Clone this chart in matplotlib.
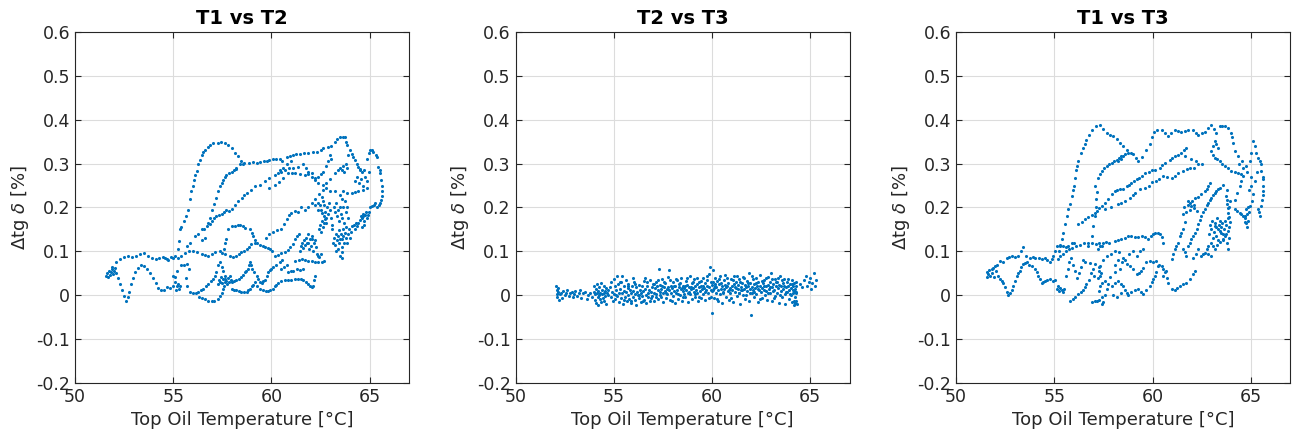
import matplotlib
matplotlib.use("Agg")
import matplotlib.pyplot as plt
import numpy as np

# ---------------------------------------------------------------
# Data (x = top oil temperature, y = delta tg delta)
# ---------------------------------------------------------------
titles = ["T1 vs T2", "T2 vs T3", "T1 vs T3"]
xticks = [50, 55, 60, 65]
yticks = [-0.2, -0.1, 0, 0.1, 0.2, 0.3, 0.4, 0.5, 0.6]
yticklabels = ["-0.2", "-0.1", "0", "0.1", "0.2", "0.3", "0.4", "0.5", "0.6"]

#%% T1 vs T2
t12_low = [(51.6,0.045),(51.65,0.05),(51.7,0.042),(51.75,0.055),(51.8,0.047),(51.85,0.052),(51.9,0.06),(51.95,0.048),
           (52.0,0.055),(52.05,0.062),(52.1,0.05),(52.2,0.04),(52.3,0.025),(52.4,0.012),(52.5,-0.002),(52.6,-0.012),
           (52.68,-0.005),(52.75,0.008),(52.85,0.025),(52.95,0.04),(53.05,0.052),(53.2,0.062),(53.35,0.068),(53.5,0.067),
           (53.65,0.06),(53.8,0.05),(53.95,0.04),(54.1,0.028),(54.25,0.017),(54.4,0.013),(54.55,0.012),(54.7,0.018),
           (54.85,0.016),(55.0,0.022),(55.1,0.03),(55.2,0.02),(55.3,0.015),(55.25,0.025),(55.15,0.012)]
t12_flat = [(51.9,0.065),(52.1,0.075),(52.3,0.083),(52.5,0.088),(52.7,0.09),(52.9,0.087),(53.1,0.09),(53.3,0.093),
            (53.5,0.097),(53.7,0.09),(53.9,0.085),(54.1,0.083),(54.3,0.086),(54.5,0.088),(54.7,0.082),(54.9,0.087),
            (55.1,0.09),(55.25,0.105),(55.3,0.124)]
t12_peak = [(55.35,0.15),(55.42,0.155),(55.55,0.17),(55.65,0.18),(55.75,0.195),(55.85,0.22),(55.93,0.237),(56.0,0.25),
            (56.07,0.262),(56.13,0.275),(56.19,0.283),(56.28,0.3),(56.36,0.308),(56.44,0.32),(56.53,0.327),(56.61,0.332),
            (56.75,0.338),(56.86,0.342),(57.05,0.346),(57.29,0.348),(57.45,0.35),(57.63,0.348),(57.8,0.342),(57.97,0.335),
            (58.15,0.325),(58.3,0.318),(58.45,0.307),(58.56,0.3)]
t12_top = [(58.2,0.29),(58.4,0.298),(58.6,0.302),(58.85,0.301),(59.07,0.303),(59.25,0.302),(59.4,0.304),(59.6,0.305),
           (59.75,0.307),(59.9,0.309),(60.08,0.31),(60.25,0.311),(60.42,0.31),(60.55,0.305),(60.77,0.316),(60.95,0.318),
           (61.1,0.32),(61.25,0.321),(61.45,0.322),(61.65,0.324),(61.87,0.325),(62.1,0.326),(62.3,0.327),(62.5,0.33),
           (62.64,0.335),(62.9,0.337),(63.05,0.34),(63.23,0.35),(63.35,0.357),(63.49,0.36),(63.62,0.361),(63.74,0.361),
           (63.8,0.35),(63.83,0.342),(63.91,0.32),(64.0,0.33),(64.08,0.323),(64.15,0.315),(64.25,0.308),(64.35,0.3),
           (64.42,0.293),(64.5,0.287),(64.59,0.282),(64.7,0.285),(64.85,0.31),(64.95,0.325),(65.02,0.33),(65.1,0.33),
           (65.19,0.327),(65.3,0.32),(65.36,0.316),(65.44,0.293),(65.5,0.285),(65.53,0.278),(65.58,0.262),(65.61,0.248),
           (65.62,0.237),(65.61,0.226),(65.58,0.218),(65.53,0.21),(65.45,0.205),(65.36,0.2),(65.27,0.21),(65.2,0.205),
           (65.1,0.203),(65.0,0.2)]
t12_upper = [(60.34,0.278),(60.5,0.282),(60.68,0.286),(60.9,0.29),(61.1,0.29),(61.36,0.293),(61.6,0.3),(61.75,0.29),
             (61.87,0.282),(62.04,0.27),(62.21,0.263),(62.38,0.27),(62.5,0.276),(62.64,0.282),(62.78,0.295),(62.9,0.305),
             (62.98,0.32),(63.05,0.31)]
t12_mid1 = [(55.68,0.113),(55.85,0.118),(56.1,0.135),(56.27,0.14),(56.44,0.15),(56.57,0.152),(56.7,0.158),(56.85,0.163),
            (56.95,0.17),(57.1,0.175),(57.2,0.18),(57.33,0.183),(57.46,0.186),(57.6,0.19),(57.7,0.194),(57.85,0.192),
            (58.0,0.197),(58.14,0.205),(58.3,0.214),(58.5,0.222),(58.62,0.228),(58.73,0.233),(58.95,0.24),(59.15,0.248),
            (59.4,0.252),(59.66,0.26),(59.9,0.267),(60.17,0.274),(60.42,0.285),(60.6,0.29),(60.8,0.3),(61.0,0.305)]
t12_mid2 = [(56.45,0.125),(56.6,0.13),(56.75,0.165),(56.86,0.177),(56.95,0.195),(57.08,0.207),(57.2,0.222),(57.29,0.237),
            (57.37,0.248),(57.46,0.256),(57.54,0.263),(57.62,0.27),(57.71,0.274),(57.85,0.278),(57.97,0.282),(58.1,0.285),
            (58.22,0.287)]
t12_mid3 = [(59.9,0.245),(60.17,0.252),(60.4,0.258),(60.6,0.268),(60.85,0.278),(61.05,0.278),(61.2,0.278),(61.45,0.276),
            (61.7,0.274),(61.87,0.276),(62.04,0.278),(62.2,0.268),(62.38,0.256),(62.64,0.252),(62.8,0.244),(62.98,0.237),
            (63.23,0.237),(63.49,0.229),(63.66,0.237),(63.83,0.233),(64.08,0.233),(64.25,0.235),(64.42,0.237),(64.68,0.24),
            (64.85,0.244)]
t12_mid4 = [(57.7,0.128),(57.8,0.15),(57.97,0.158),(58.14,0.158),(58.3,0.16),(58.4,0.16),(58.55,0.157),(58.64,0.154),
            (58.9,0.15),(59.0,0.142),(59.07,0.135),(59.15,0.127),(57.6,0.105),(57.65,0.118)]
t12_ten = [(54.58,0.086),(54.75,0.08),(55.0,0.086),(55.25,0.086),(55.42,0.09),(55.6,0.097),(55.8,0.1),(56.0,0.1),
           (56.2,0.098),(56.44,0.094),(56.6,0.092),(56.78,0.09),(56.95,0.095),(57.12,0.098),(57.37,0.1),(57.5,0.097),
           (57.63,0.094),(57.88,0.09),(58.05,0.088),(58.22,0.089),(58.35,0.093),(58.47,0.098),(58.6,0.1),(58.73,0.105),
           (58.85,0.11),(58.98,0.117),(59.15,0.12),(59.28,0.118),(59.4,0.115),(59.55,0.112),(59.66,0.109),(59.8,0.107),
           (59.92,0.105),(60.05,0.1),(60.17,0.09),(60.35,0.092),(60.5,0.096),(60.68,0.098),(60.85,0.104),(60.94,0.109),
           (61.1,0.117),(61.2,0.128),(61.3,0.135),(61.4,0.14)]
t12_rise = [(59.7,0.13),(59.9,0.14),(60.1,0.145),(60.3,0.148),(60.5,0.15),(60.65,0.162),(60.77,0.173),(60.9,0.182),
            (61.02,0.188),(61.2,0.192),(61.35,0.19),(61.5,0.2),(61.7,0.195),(61.85,0.2),(62.04,0.21),(62.2,0.205),
            (62.35,0.195),(62.55,0.188),(62.72,0.173),(62.8,0.165),(62.2,0.22),(62.4,0.23),(62.6,0.24),(62.8,0.255),
            (63.0,0.265),(63.23,0.278)]
t12_lows = [(55.0,0.045),(55.08,0.041),(55.2,0.055),(55.34,0.022),(55.42,0.068),(55.55,0.07),(55.68,0.071),(55.8,0.06),
            (55.65,0.04),(55.7,0.02),(55.85,0.008),(56.02,0.004),(56.15,0.006),(56.27,0.008),(56.4,0.012),(56.53,0.015),
            (56.65,0.02),(56.78,0.026),(56.9,0.032),(57.03,0.038),(57.12,0.045),(57.2,0.053),(57.29,0.068),(57.38,0.075),
            (56.3,-0.003),(56.45,-0.006),(56.61,-0.008),(56.78,-0.012),(56.95,-0.014),(57.1,-0.012),(57.29,-0.008),
            (57.4,-0.002),(57.46,0.004),(57.54,0.015),(57.6,0.022),(57.63,0.03),(57.65,0.038),(57.63,0.045),(57.55,0.055),
            (57.46,0.065),(57.3,0.025),(57.35,0.035),(57.4,0.03),(57.45,0.042),(57.5,0.028),(57.55,0.038),(57.7,0.033),
            (57.75,0.025),(57.8,0.04),(57.85,0.03),(57.9,0.045),(57.95,0.035)]
t12_wave = [(57.97,0.03),(58.1,0.032),(58.22,0.034),(58.35,0.038),(58.47,0.041),(58.56,0.047),(58.64,0.053),(58.72,0.056),
            (58.8,0.06),(58.85,0.068),(58.9,0.075),(58.95,0.07),(59.0,0.06),(59.1,0.052),(59.24,0.045),(59.32,0.037),
            (59.4,0.03),(59.5,0.028),(59.58,0.032),(59.66,0.034),(59.75,0.044),(59.83,0.053),(59.92,0.057),(60.0,0.06),
            (60.1,0.065),(60.25,0.07),(60.42,0.075),(60.55,0.08),
            (57.97,0.015),(58.1,0.013),(58.22,0.011),(58.35,0.009),(58.47,0.008),(58.6,0.007),(58.73,0.008),(58.82,0.011),
            (58.9,0.015),(59.0,0.02),(59.07,0.023),(59.15,0.03),(59.25,0.02),(59.4,0.015),(59.58,0.011),(59.7,0.01),
            (59.83,0.009),(59.95,0.012),(60.08,0.015),(60.17,0.02),(60.25,0.023),(60.35,0.028)]
t12_rlow = [(60.5,0.032),(60.68,0.034),(60.85,0.034),(61.02,0.034),(61.2,0.036),(61.36,0.038),(61.5,0.036),(61.62,0.034),
            (61.75,0.03),(61.87,0.026),(61.95,0.022),(62.04,0.019),(62.12,0.022),(62.18,0.035),(62.21,0.045),(60.51,0.06),
            (60.65,0.064),(60.77,0.068),(60.85,0.053),(61.0,0.055),(61.1,0.056),(61.28,0.06),(61.45,0.058),(61.6,0.06),
            (61.2,0.079),(61.4,0.08),(61.55,0.082),(61.7,0.08),(61.87,0.079),(62.04,0.077),(62.21,0.075),(62.38,0.076),
            (62.55,0.075),(62.7,0.078)]
t12_dense = [(61.45,0.1),(61.5,0.113),(61.55,0.12),(61.6,0.108),(61.65,0.125),(61.7,0.115),(61.75,0.13),(61.8,0.118),
             (61.85,0.14),(61.87,0.12),(61.9,0.105),(61.95,0.128),(62.0,0.112),(62.04,0.128),(62.08,0.135),(62.1,0.1),
             (62.15,0.118),(62.2,0.125),(62.25,0.11),(62.3,0.095),(62.35,0.09),(62.42,0.088),(62.5,0.093),
             (62.4,0.15),(62.45,0.16),(62.5,0.145),(62.55,0.17),(62.6,0.155),(62.65,0.18),(62.7,0.165),(62.75,0.19),
             (62.8,0.175),(62.85,0.2),(62.9,0.185),(62.95,0.21),(63.0,0.195),(63.05,0.175),(63.06,0.15),(63.1,0.16),
             (62.6,0.215),(62.7,0.205),(62.5,0.195),(62.45,0.205),(62.55,0.225),(62.35,0.21),
             (63.15,0.12),(63.2,0.13),(63.23,0.115),(63.3,0.14),(63.35,0.125),(63.4,0.135),(63.42,0.148),(63.45,0.118),
             (63.5,0.128),(63.55,0.14),(63.57,0.128),(63.6,0.11),(63.62,0.15),(63.65,0.135),(63.7,0.12),(63.74,0.143),
             (63.78,0.13),(63.8,0.155),(63.85,0.118),(63.9,0.14),(63.95,0.152),(64.0,0.13),(64.05,0.145),(64.08,0.158),
             (63.57,0.098),(63.5,0.09),(63.6,0.085),(63.4,0.105),(63.3,0.1),
             (63.2,0.2),(63.25,0.19),(63.3,0.21),(63.35,0.18),(63.4,0.195),(63.45,0.17),(63.5,0.2),(63.55,0.185),
             (63.6,0.175),(63.65,0.2),(63.7,0.165),(63.8,0.19),(63.85,0.2),(63.9,0.175),(63.75,0.215),(63.6,0.22),
             (64.2,0.16),(64.25,0.15),(64.3,0.165),(64.35,0.158),(64.42,0.165),(64.5,0.172),(64.55,0.18),(64.6,0.175),
             (64.65,0.185),(64.68,0.18),(64.72,0.17),(64.76,0.184),(64.8,0.19),(64.85,0.175),(64.9,0.182),(64.95,0.19),
             (64.7,0.16),(64.6,0.155),
             (63.4,0.285),(63.5,0.29),(63.57,0.286),(63.65,0.295),(63.7,0.28),(63.8,0.3),(63.85,0.29),(64.25,0.26),
             (64.35,0.27),(64.45,0.255),(64.55,0.265),(64.65,0.25),(64.75,0.27),(64.85,0.26),(64.95,0.28),(64.5,0.285)]

#%% T2 vs T3
t23_left = [(52.08,0.022),(52.1,0.012),(52.12,0.003),(52.1,-0.004),(52.15,0.016),(52.14,0.008),(52.2,-0.01),(52.25,0.002),
            (52.3,0.006),(52.35,-0.006),(52.42,0.009),(52.5,0.0),(52.55,0.004),(52.62,0.011),(52.7,-0.002),(52.78,0.006),
            (52.85,0.008),(52.92,-0.004),(53.0,0.003),(53.05,0.009),(53.15,-0.002),(53.22,0.005),(53.3,0.012),(53.35,-0.006),
            (53.45,0.004),(53.55,0.007),(53.62,-0.008),(53.7,0.001),(53.8,0.006),(53.88,-0.003),
            (54.0,0.02),(54.02,0.008),(54.05,-0.01),(54.06,0.002),(54.1,0.015),(54.12,-0.018),(54.14,0.005),(54.15,0.025),
            (54.18,-0.004),(54.2,0.01),(54.22,-0.022),(54.25,0.0),(54.27,0.018),(54.3,-0.008),(54.32,0.006),(54.35,0.028),
            (54.36,-0.015),(54.4,0.003),(54.42,0.012),(54.45,-0.006),(54.48,0.02),(54.5,-0.012),(54.52,0.004),(54.55,0.009),
            (54.58,-0.002),(54.6,0.016),(54.63,-0.02),(54.66,0.006),(54.7,0.0),(54.72,0.012)]
t23_mid = [(54.8,0.018),(54.85,-0.005),(54.88,0.03),(54.92,0.008),(54.95,-0.012),(55.0,0.038),(55.02,0.002),(55.05,0.02),
           (55.08,-0.008),(55.12,0.012),(55.15,0.043),(55.18,-0.002),(55.2,0.025),(55.25,-0.015),(55.28,0.006),(55.3,0.015),
           (55.35,-0.006),(55.38,0.03),(55.42,0.004),(55.45,-0.02),(55.5,0.01),(55.52,0.022),(55.55,-0.003),(55.6,0.035),
           (55.62,0.007),(55.65,-0.012),(55.7,0.016),(55.72,0.0),(55.75,0.026),(55.8,-0.008),(55.83,0.012),(55.86,-0.018),
           (55.9,0.005),(55.93,0.02),(55.96,-0.004),(56.0,0.01),(56.03,0.03),(56.06,-0.01),(56.1,0.003),(56.12,0.018),
           (56.15,-0.022),(56.2,0.008),(56.23,0.0),(56.26,0.024),(56.3,-0.006),(56.33,0.013),(56.37,-0.015),(56.4,0.004),
           (56.43,0.02),(56.46,-0.002),(56.5,0.009),(56.53,0.032),(56.56,-0.01),(56.6,0.015),(56.63,0.001),(56.66,-0.018),
           (56.7,0.022),(56.73,0.006),(56.76,-0.004),(56.8,0.012),(56.83,0.035),(56.86,-0.012),(56.9,0.008),(56.93,0.018),
           (56.96,-0.002),(57.0,0.026),
           (57.03,0.004),(57.06,-0.014),(57.1,0.016),(57.13,0.03),(57.16,0.002),(57.2,0.02),(57.23,-0.008),(57.26,0.012),
           (57.3,0.06),(57.33,0.008),(57.36,0.024),(57.4,-0.004),(57.43,0.015),(57.46,0.038),(57.5,0.005),(57.53,-0.016),
           (57.56,0.019),(57.6,0.01),(57.63,0.028),(57.66,-0.006),(57.7,0.014),(57.73,0.003),(57.76,0.042),(57.8,0.057),
           (57.83,0.012),(57.86,-0.01),(57.9,0.022),(57.93,0.006),(57.96,0.016),(58.0,-0.002),(58.03,0.03),(58.06,0.01),
           (58.1,-0.018),(58.13,0.02),(58.16,0.004),(58.2,0.034),(58.23,0.012),(58.26,-0.008),(58.3,0.018),(58.33,0.026),
           (58.36,0.0),(58.4,0.014),(58.43,0.04),(58.46,-0.012),(58.5,0.009),(58.53,0.022),(58.56,0.003),(58.6,0.017),
           (58.63,-0.005),(58.66,0.032),(58.7,0.011),(58.73,0.024),(58.76,-0.015),(58.8,0.006),(58.83,0.019),(58.86,0.045),
           (58.9,0.002),(58.93,0.014),(58.96,0.028),(59.0,-0.008),(59.03,0.016),(59.06,0.008),(59.1,0.036),(59.13,0.02),
           (59.16,-0.003),(59.2,0.012),(59.23,0.025),(59.26,0.005),(59.3,-0.012),(59.33,0.018),(59.36,0.03),(59.4,0.009),
           (59.43,0.021),(59.46,-0.006),(59.5,0.014),(59.53,0.04),(59.56,0.003),(59.6,0.017),(59.63,0.027),(59.66,-0.01),
           (59.7,0.011),(59.73,0.022),(59.76,0.035),(59.8,0.006),(59.83,0.018),(59.86,0.048),(59.9,0.065),(59.93,0.013),
           (59.96,-0.004),(60.0,0.024)]
t23_right = [(60.0,-0.04),(60.02,0.01),(60.04,0.03),(60.06,0.058),(60.08,0.016),(60.1,-0.006),(60.13,0.022),(60.16,0.04),
             (60.2,0.005),(60.23,0.018),(60.26,0.032),(60.3,-0.012),(60.33,0.012),(60.36,0.026),(60.4,0.002),(60.43,0.045),
             (60.46,0.015),(60.5,0.02),(60.53,-0.018),(60.56,0.008),(60.6,0.034),(60.63,0.014),(60.66,0.024),(60.7,-0.004),
             (60.73,0.018),(60.76,0.04),(60.8,0.01),(60.83,0.028),(60.86,-0.01),(60.9,0.016),(60.93,0.004),(60.96,0.036),
             (61.0,0.021),(61.03,0.012),(61.06,-0.015),(61.1,0.026),(61.13,0.044),(61.16,0.008),(61.2,0.017),(61.23,0.03),
             (61.26,-0.002),(61.3,0.014),(61.33,0.023),(61.36,0.038),(61.4,0.006),(61.43,-0.02),(61.46,0.019),(61.5,0.011),
             (61.53,0.028),(61.56,0.0),(61.6,0.042),(61.63,0.015),(61.66,0.024),(61.7,-0.008),(61.73,0.018),(61.76,0.033),
             (61.8,0.009),(61.83,0.021),(61.86,0.05),(61.9,-0.012),(61.93,0.014),(61.96,0.027),(62.0,-0.045),(62.02,0.005),
             (62.05,0.019),(62.08,0.036),(62.1,0.012),(62.13,-0.004),(62.16,0.025),(62.2,0.016),(62.23,0.04),(62.26,0.003),
             (62.3,0.02),(62.33,-0.016),(62.36,0.03),(62.4,0.011),(62.43,0.022),(62.46,0.046),(62.5,0.007),(62.53,0.017),
             (62.56,-0.006),(62.6,0.028),(62.63,0.013),(62.66,0.035),(62.7,0.0),(62.73,0.021),(62.76,0.01),(62.8,-0.01),
             (62.83,0.024),(62.86,0.042),(62.9,0.015),(62.93,0.004),(62.96,0.03),(63.0,0.05),(63.03,0.018),(63.06,-0.014),
             (63.1,0.009),(63.13,0.026),(63.16,0.012),(63.2,0.038),(63.23,-0.002),(63.26,0.02),(63.3,0.031),(63.33,0.006),
             (63.36,0.016),(63.4,-0.018),(63.43,0.024),(63.46,0.044),(63.5,0.01),(63.53,0.02),(63.56,-0.005),(63.6,0.028),
             (63.63,0.014),(63.66,0.036),(63.7,0.003),(63.73,-0.02),(63.76,0.018),(63.8,0.03),(63.83,0.008),(63.86,0.022),
             (63.9,-0.008),(63.93,0.012),(63.96,0.026),(64.0,0.0),(64.03,0.016),(64.06,-0.015),(64.08,0.034),(64.1,0.006),
             (64.12,0.02),(64.15,-0.022),(64.17,0.01),(64.2,0.028),(64.22,-0.004),(64.25,0.015),(64.27,-0.012),(64.3,0.004),
             (64.5,0.025),(64.6,0.018),(64.7,0.035),(64.8,0.045),(64.85,0.02),(64.95,0.03),(65.0,0.04),(65.05,0.015),
             (65.1,0.028),(65.2,0.05),(65.25,0.022),(65.3,0.035)]
t23_fill = [(55.1,0.0),(55.3,0.03),(55.5,-0.01),(55.7,0.02),(55.9,-0.014),(56.1,0.026),(56.3,0.0),(56.5,-0.014),
            (56.7,0.03),(56.9,-0.006),(55.4,0.045),(56.0,0.04),(56.6,0.04),
            (57.05,0.025),(57.15,-0.004),(57.25,0.035),(57.35,0.0),(57.45,0.022),(57.55,0.03),(57.65,0.006),(57.75,0.018),
            (57.85,0.034),(57.95,-0.012),(58.05,0.022),(58.15,0.038),(58.25,0.002),(58.35,0.028),(58.45,0.016),(58.55,-0.004),
            (58.65,0.02),(58.75,0.04),(58.85,0.008),(58.95,0.018),(59.05,0.03),(59.15,0.002),(59.25,0.04),(59.35,-0.004),
            (59.45,0.032),(59.55,0.02),(59.65,0.008),(59.75,0.045),(59.85,-0.006),(59.95,0.03),(60.05,0.012),(60.15,0.026),
            (60.25,-0.008),(60.35,0.036),(60.45,0.028),(60.55,0.004),(60.65,0.046),(60.75,0.022),(60.85,0.012),(60.95,-0.006),
            (61.05,0.035),(61.15,0.018),(61.25,0.044),(61.35,0.004),(61.45,0.03),(61.55,0.012),(61.65,0.04),(61.75,0.0),
            (61.85,0.028),(61.95,0.006),(62.05,0.044),(62.15,0.008),(62.25,0.028),(62.35,0.014),(62.45,-0.008),(62.55,0.032),
            (62.65,0.02),(62.75,0.04),(62.85,0.006),(62.95,0.018),(63.05,0.036),(63.15,-0.006),(63.25,0.03),(63.35,0.04),
            (63.45,0.0),(63.55,0.034),(63.65,0.022),(63.75,0.008),(63.85,0.038),(63.95,0.002),(64.05,0.026),(64.13,0.012),
            (64.2,-0.014),(64.26,0.02),(64.29,0.03),(64.32,-0.02),(64.28,0.008),(64.24,-0.018)]

#%% T1 vs T3
t13_left = [(51.56,0.041),(51.6,0.052),(51.64,0.048),(51.7,0.058),(51.75,0.045),(51.81,0.06),(51.85,0.05),(51.9,0.063),
            (51.95,0.042),(51.98,0.067),(52.05,0.055),(52.15,0.045),(52.24,0.037),(52.32,0.032),(52.41,0.029),(52.5,0.018),
            (52.58,0.008),(52.66,0.0),(52.75,0.005),(52.83,0.011),(52.92,0.022),(53.0,0.033),(53.08,0.045),(53.17,0.05),
            (53.25,0.056),(53.33,0.064),(53.42,0.071),(53.5,0.073),(53.59,0.075),(53.7,0.07),(53.85,0.067),(54.02,0.06),
            (54.1,0.052),(54.19,0.045),(54.28,0.036),(54.36,0.029),(54.45,0.031),(54.53,0.033),(54.65,0.035),(54.78,0.037),
            (54.95,0.033),(55.05,0.035)]
t13_flat = [(52.1,0.07),(52.24,0.079),(52.41,0.076),(52.58,0.086),(52.7,0.088),(52.83,0.09),(53.0,0.088),(53.17,0.09),
            (53.3,0.1),(53.42,0.109),(53.55,0.09),(53.76,0.086),(53.9,0.088),(54.02,0.086),(54.2,0.084),(54.36,0.082),
            (54.53,0.086),(54.65,0.08),(54.78,0.075),(54.88,0.082),(54.95,0.09),(55.05,0.1),(55.12,0.113),(55.3,0.112),
            (55.46,0.113),(55.6,0.11),(55.71,0.113),(55.88,0.12),(56.0,0.118)]
t13_peak = [(55.2,0.082),(55.25,0.1),(55.3,0.115),(55.37,0.128),(55.46,0.143),(55.54,0.162),(55.63,0.181),(55.71,0.196),
            (55.8,0.207),(55.88,0.226),(55.95,0.24),(56.0,0.249),(56.05,0.268),(56.1,0.286),(56.15,0.295),(56.22,0.305),
            (56.34,0.324),(56.47,0.336),(56.55,0.345),(56.64,0.354),(56.78,0.366),(56.9,0.376),(57.1,0.385),(57.32,0.389),
            (57.5,0.38),(57.66,0.37),(57.85,0.365),(58.0,0.362),(58.17,0.355),(58.34,0.347),(58.5,0.34),(58.68,0.332),
            (58.93,0.324)]
t13_top = [(58.25,0.305),(58.38,0.31),(58.51,0.317),(58.76,0.324),(59.0,0.322),(59.15,0.312),(59.27,0.305),(59.45,0.315),
           (59.69,0.332),(59.85,0.345),(59.95,0.36),(60.08,0.373),(60.25,0.376),(60.46,0.377),(60.65,0.37),(60.8,0.362),
           (60.95,0.37),(61.14,0.376),(61.3,0.374),(61.47,0.373),(61.65,0.375),(61.81,0.376),(62.07,0.376),(62.2,0.37),
           (62.32,0.366),(62.5,0.37),(62.66,0.373),(62.85,0.382),(63.0,0.389),(63.12,0.38),(63.25,0.37),(63.42,0.386),
           (63.55,0.386),(63.68,0.385),(63.85,0.381),(63.98,0.37),(64.05,0.36),(64.1,0.347),(64.19,0.328),(64.36,0.317),
           (64.55,0.305),(64.78,0.294),(64.95,0.305),(65.03,0.324),(65.12,0.351),(65.2,0.339),(65.29,0.324),(65.37,0.313),
           (65.45,0.305),(65.5,0.298),(65.54,0.283),(65.6,0.27),(65.63,0.264),(65.64,0.25),(65.63,0.237),(65.6,0.228),
           (65.58,0.218),(65.51,0.203),(65.37,0.196),(65.46,0.181),(65.4,0.19)]
t13_mid1 = [(56.22,0.162),(56.4,0.168),(56.56,0.173),(56.72,0.178),(56.9,0.184),(57.05,0.188),(57.15,0.192),(57.3,0.198),
            (57.41,0.203),(57.58,0.211),(57.75,0.22),(57.92,0.23),(58.08,0.237),(58.2,0.24),(58.34,0.241),(58.5,0.242),
            (58.68,0.249),(58.8,0.252),(58.93,0.256),(59.05,0.26),(59.19,0.264),(59.3,0.268),(59.44,0.271),(59.61,0.279),
            (59.8,0.282),(59.95,0.285),(60.12,0.286),(60.37,0.29),(60.5,0.296),(60.63,0.302),(60.88,0.309),(61.0,0.313),
            (61.14,0.317),(61.3,0.32),(61.47,0.324),(61.6,0.33),(61.72,0.335)]
t13_mid2 = [(56.73,0.12),(56.9,0.135),(56.98,0.158),(57.07,0.181),(57.07,0.249),(57.1,0.2),(57.12,0.22),(57.15,0.235),
            (57.24,0.268),(57.33,0.276),(57.41,0.283),(57.55,0.29),(57.66,0.294),(57.8,0.298),(57.92,0.302),(58.05,0.306),
            (58.17,0.309),(58.3,0.313),(58.42,0.317),(58.6,0.322)]
t13_mid3 = [(57.58,0.196),(57.9,0.2),(58.25,0.207),(58.4,0.21),(58.59,0.215),(58.85,0.222),(59.0,0.228),(59.1,0.234),
            (59.36,0.241),(59.61,0.245),(59.8,0.25),(59.95,0.258),(60.2,0.26),(60.35,0.265),(60.54,0.271),(60.75,0.27),
            (60.97,0.268),(61.15,0.272),(61.31,0.279),(61.56,0.283),(61.75,0.287),(61.9,0.29),(62.1,0.29),(62.3,0.3),
            (61.64,0.317),(61.95,0.31),(62.2,0.305),(62.5,0.298)]
t13_thirteen = [(57.24,0.105),(57.35,0.113),(57.49,0.12),(57.65,0.122),(57.8,0.12),(58.08,0.124),(58.25,0.126),(58.42,0.128),
                (58.6,0.13),(58.76,0.135),(58.93,0.134),(59.1,0.132),(59.27,0.133),(59.44,0.135),(59.6,0.132),(59.78,0.128),
                (59.9,0.134),(60.03,0.139),(60.15,0.141),(60.29,0.143),(60.4,0.14),(60.46,0.132),(60.55,0.12),
                (55.3,0.09),(55.45,0.095),(55.6,0.1),(55.75,0.105),(55.9,0.108),(56.1,0.112),(56.3,0.115),(56.5,0.118),
                (56.7,0.112),(56.9,0.118),(57.1,0.116),(57.3,0.12),(57.45,0.112)]
t13_low = [(55.12,0.014),(55.2,0.02),(55.25,0.01),(55.3,0.016),(55.37,0.011),(55.45,0.008),(55.5,0.015),(55.8,-0.012),
           (55.95,-0.008),(56.05,-0.005),(56.22,0.003),(56.35,0.007),(56.47,0.011),(56.55,0.018),(56.64,0.026),(56.9,-0.016),
           (57.05,-0.014),(57.15,-0.012),(57.3,-0.01),(57.41,-0.005),(57.49,-0.016),(57.45,-0.02),(57.58,0.0),(57.66,0.014),
           (57.75,0.026),(57.92,0.022),(58.08,0.029),(58.25,0.033),(58.42,0.026),(58.5,0.02),(58.59,0.011),(58.68,0.004),
           (58.76,0.0),(58.93,0.007),(59.1,0.011),(59.27,0.014),(59.4,0.008),(59.53,0.003),(59.69,0.011),(59.86,0.022),
           (59.95,0.03),(60.03,0.037),(60.12,0.045),(60.2,0.052),(60.29,0.067),(60.46,0.067),(60.55,0.06),(60.63,0.052),
           (60.72,0.04),(60.8,0.029),(60.97,0.014),(61.14,0.011),(61.25,0.017),(61.39,0.022),(61.56,0.026),(61.73,0.029),
           (61.9,0.037),(62.07,0.048),(62.15,0.056),
           (57.25,0.04),(57.28,0.055),(57.3,0.065),(57.32,0.02),(57.26,0.01),(57.35,0.045),(56.85,0.05),(56.95,0.06),
           (57.0,0.045),(56.75,0.035)]
t13_midlow = [(56.56,0.075),(56.8,0.073),(57.07,0.071),(57.32,0.067),(57.38,0.05),(57.41,0.029),(57.6,0.032),(57.83,0.041),
              (58.08,0.052),(58.34,0.06),(58.45,0.075),(58.51,0.086),(58.6,0.08),(58.7,0.072),(58.85,0.067),(59.02,0.06),
              (59.19,0.048),(59.3,0.05),(59.42,0.055),(59.53,0.063),(59.69,0.075),(59.86,0.079),(60.03,0.075),(60.2,0.079),
              (60.35,0.07),(60.54,0.045),(60.7,0.055),
              (55.6,0.045),(55.7,0.06),(55.75,0.075),(55.85,0.085),(55.95,0.07),(56.05,0.055),(56.15,0.04),(56.25,0.05),
              (56.35,0.065),(56.45,0.08),(57.5,0.08),(57.7,0.09),(57.9,0.095),(58.1,0.1),(58.3,0.098),(58.0,0.0),
              (58.2,-0.005),(58.4,0.005),(58.1,0.07),(58.25,0.08),(59.2,0.09),(59.35,0.1),(59.5,0.105),(59.0,0.1),
              (58.8,0.095)]
t13_dense = [(60.97,0.082),(61.05,0.095),(61.14,0.105),(61.2,0.112),(61.31,0.12),(61.39,0.135),(61.45,0.142),(61.56,0.15),
             (61.64,0.166),(61.56,0.105),(61.65,0.098),(61.73,0.09),(61.81,0.113),(61.9,0.12),(61.98,0.128),(62.07,0.136),
             (62.15,0.143),(62.24,0.152),(62.32,0.162),(62.4,0.172),(62.49,0.181),(62.58,0.19),(62.66,0.196),(62.75,0.205),
             (62.83,0.211),(62.92,0.218),(63.0,0.222),(63.08,0.228),(63.17,0.234),(63.25,0.238),(63.34,0.241),(63.45,0.245),
             (63.59,0.252),(61.81,0.215),(61.9,0.21),(61.98,0.203),(62.1,0.198),(62.24,0.192),(62.15,0.222),(62.3,0.225),
             (62.45,0.23),(62.66,0.237),(62.75,0.243),(62.83,0.249),(62.95,0.255),(63.17,0.158),(63.25,0.155),(63.34,0.15),
             (63.42,0.146),(63.51,0.143),(63.6,0.14),(63.68,0.135),(63.76,0.14),(63.85,0.147),(63.9,0.155),(63.93,0.166),
             (63.9,0.178),(63.85,0.188),(63.83,0.198),(63.81,0.207),(63.78,0.218),(63.76,0.226),(63.0,0.12),(63.08,0.112),
             (63.17,0.105),(63.3,0.115),(63.45,0.122),(63.59,0.128),(63.0,0.09),(62.85,0.095),(62.49,0.09),(62.58,0.094),
             (62.66,0.097),(62.75,0.105),(62.83,0.113),(62.32,0.105),(62.2,0.095),(62.07,0.086),(64.19,0.196),(64.3,0.192),
             (64.44,0.188),(64.52,0.185),(64.61,0.181),(64.69,0.166),(64.72,0.18),(64.78,0.196),(64.86,0.2),(64.95,0.203),
             (65.05,0.215),(65.12,0.23),(64.19,0.218),(64.3,0.232),(64.44,0.249),(64.52,0.26),(64.61,0.271),(64.5,0.276),
             (64.36,0.279),(64.2,0.281),(64.02,0.283),(63.85,0.29),(63.68,0.294),(63.55,0.3),(63.42,0.305),(63.3,0.31),
             (63.17,0.313),(63.08,0.32),(63.0,0.328),(63.1,0.34),(63.17,0.351),(63.25,0.345),(63.34,0.335),
             (62.9,0.14),(62.95,0.16),(63.0,0.15),(63.05,0.17),(63.1,0.13),(63.15,0.145),(63.2,0.165),(63.25,0.135),
             (63.3,0.175),(63.35,0.125),(63.4,0.16),(63.45,0.17),(63.5,0.155),(63.55,0.165),(63.6,0.125),(63.65,0.15),
             (63.7,0.17),(63.75,0.16),(63.8,0.12),(63.82,0.175),(63.85,0.105),(63.88,0.13),(63.9,0.2),(63.92,0.215),
             (63.8,0.24),(61.6,0.2),(61.7,0.19),(61.8,0.205),(61.9,0.195),(62.0,0.215),(62.1,0.205),(61.55,0.185),
             (64.7,0.175),(64.75,0.165),(64.8,0.185),(64.85,0.17),(64.9,0.19),(64.8,0.155),
             (64.4,0.3),(64.6,0.29),(64.8,0.28),(65.0,0.27),(65.2,0.26),(65.3,0.28),(64.9,0.24),(65.0,0.25)]

panels = [
    t12_low + t12_flat + t12_peak + t12_top + t12_upper + t12_mid1 + t12_mid2 + t12_mid3 + t12_mid4
    + t12_ten + t12_rise + t12_lows + t12_wave + t12_rlow + t12_dense,
    t23_left + t23_mid + t23_right + t23_fill,
    t13_left + t13_flat + t13_peak + t13_top + t13_mid1 + t13_mid2 + t13_mid3 + t13_thirteen
    + t13_low + t13_midlow + t13_dense,
]

#%% Plot
dark = "#262626"
blue = "#0072BD"
fig = plt.figure(figsize=(12.93, 4.41), dpi=100)
lefts = [0.058, 0.3987, 0.7394]

for i in range(3):
    ax = fig.add_axes([lefts[i], 0.1315, 0.2583, 0.796])
    pts = np.array(panels[i])
    ax.scatter(pts[:, 0], pts[:, 1], s=5, color=blue, linewidths=0, zorder=3)
    ax.set_xlim(50, 67)
    ax.set_ylim(-0.2, 0.6)
    ax.set_xticks(xticks)
    ax.set_yticks(yticks)
    ax.set_yticklabels(yticklabels)
    ax.grid(True, color="#dcdcdc", linewidth=0.8)
    ax.set_axisbelow(True)
    for s in ax.spines.values():
        s.set_color(dark)
        s.set_linewidth(0.8)
    ax.tick_params(direction="in", length=4, width=0.8, colors=dark, labelsize=12.5,
                   top=True, right=True, labelcolor=dark)
    ax.set_xlabel("Top Oil Temperature [°C]", fontsize=13, color=dark)
    ax.set_ylabel(r"$\Delta$tg $\delta$ [%]", fontsize=13, color=dark)
    ax.set_title(titles[i], fontsize=14, fontweight="bold", pad=6)

plt.savefig("out.png", dpi=100)
